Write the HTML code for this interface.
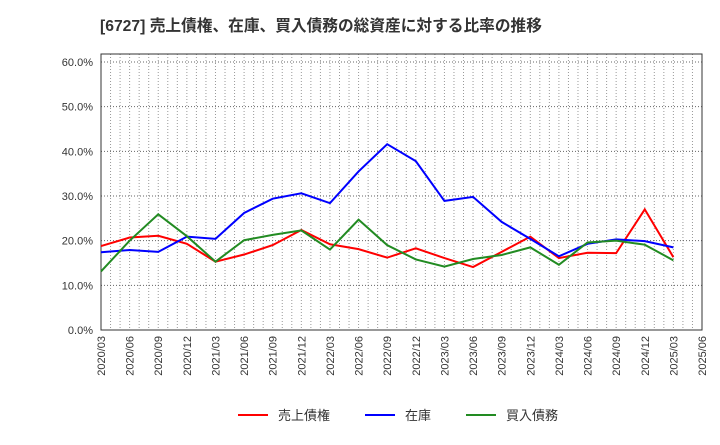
<!DOCTYPE html>
<html><head><meta charset="utf-8"><style>
body{margin:0;background:#fff;width:720px;height:440px;overflow:hidden}
text{font-family:"Liberation Sans","Noto Sans CJK JP",sans-serif}
</style></head><body>
<svg id="c" width="720" height="440">
<text x="100" y="31" font-size="15.7" font-weight="bold" fill="#333">[6727]  売上債権、在庫、買入債務の総資産に対する比率の推移</text>
</svg>
<script>
const categories=["2020/03","2020/06","2020/09","2020/12","2021/03","2021/06","2021/09","2021/12","2022/03","2022/06","2022/09","2022/12","2023/03","2023/06","2023/09","2023/12","2024/03","2024/06","2024/09","2024/12","2025/03","2025/06"];
const receivables=[18.8,20.7,21.1,19.3,15.3,16.9,19.0,22.4,19.2,18.1,16.2,18.3,16.1,14.1,17.5,20.9,16.1,17.3,17.2,27.0,16.3];
const inventory=[17.4,17.9,17.5,20.9,20.4,26.2,29.4,30.6,28.4,35.5,41.6,37.8,28.9,29.8,24.2,20.4,16.5,19.3,20.3,19.9,18.5];
const payables=[13.1,20.0,25.9,21.0,15.3,20.1,21.3,22.3,18.0,24.7,19.0,15.8,14.2,15.9,16.8,18.5,14.6,19.6,20.0,19.1,15.6];
const yTicks=[0,10,20,30,40,50,60];
const seriesNames=["売上債権","在庫","買入債務"];
const colors=["#ff0000","#0000ff","#228b22"];
const L=101,R=702,T=54,B=330;
const x=i=>L+i*(R-L)/(categories.length-1);
const y=v=>B-v*(B-62)/60;
const s=document.getElementById('c');const NS="http://www.w3.org/2000/svg";
function mk(t,a,p){const e=document.createElementNS(NS,t);for(const k in a)e.setAttribute(k,a[k]);(p||s).appendChild(e);return e;}
const g=mk('g',{});


const months=(categories.length-1)*3;
for(let m=1;m<months;m++){const xx=L+m*(R-L)/months;mk('line',{x1:xx,x2:xx,y1:T,y2:B,stroke:'#999','stroke-width':1,'stroke-dasharray':'1,2'},g);}
yTicks.forEach(v=>{mk('line',{x1:L,x2:R,y1:y(v),y2:y(v),stroke:'#666','stroke-width':1,'stroke-dasharray':'1,2'},g);
const t=mk('text',{x:L-8,y:y(v)+4,'text-anchor':'end','font-size':11,fill:'#333'});t.textContent=v.toFixed(1)+'%';

});
categories.forEach((c,i)=>{const t=mk('text',{transform:`translate(${x(i)+4},${B+6}) rotate(-90)`,'text-anchor':'end','font-size':11,fill:'#333'});t.textContent=c;

});
const fr=mk('rect',{x:L,y:T,width:R-L,height:B-T,fill:'none',stroke:'#333','stroke-width':1});


[receivables,inventory,payables].forEach((d,k)=>{const p=mk('polyline',{points:d.map((v,i)=>x(i)+','+y(v)).join(' '),fill:'none',stroke:colors[k],'stroke-width':2});

});
const lx=[238,365,466];
seriesNames.forEach((n,k)=>{const lg=mk('g',{});


mk('line',{x1:lx[k],x2:lx[k]+30,y1:415,y2:415,stroke:colors[k],'stroke-width':2},lg);
const t=mk('text',{x:lx[k]+40,y:420,'font-size':13,fill:'#333'},lg);t.textContent=n;});
</script>
</body></html>
